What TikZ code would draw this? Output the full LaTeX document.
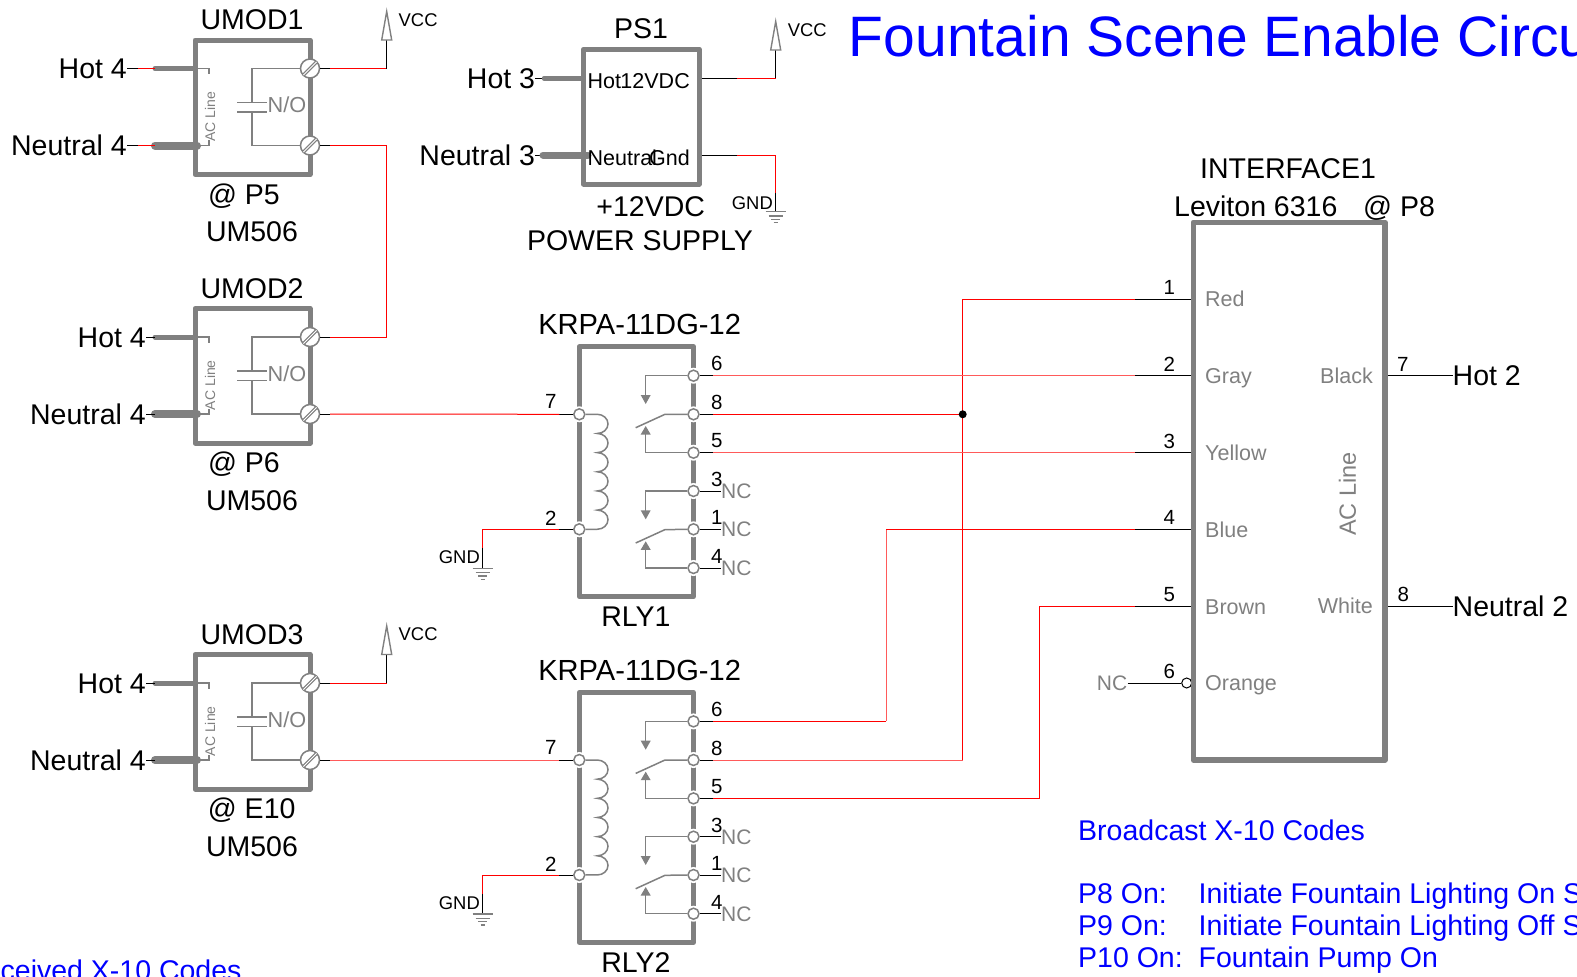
\documentclass[tikz,border=0pt]{standalone}
\usepackage{fontspec}
\setmainfont{Liberation Sans}
\newcommand\fsz[1]{\fontsize{#1}{#1}\selectfont}
\definecolor{gc}{RGB}{128,128,128}
\definecolor{bluet}{RGB}{0,0,255}
\definecolor{lred}{RGB}{255,90,90}
\tikzset{
 x=1pt,y=-1pt,
 bigt/.style={font=\fsz{28.5},text height=20.4pt,text depth=0pt,inner sep=0pt,text=black},
 krpat/.style={font=\fsz{29.1},text height=20.8pt,text depth=0pt,inner sep=0pt,text=black},
 bluetxt/.style={font=\fsz{28.5},text height=20.4pt,text depth=0pt,inner sep=0pt,text=bluet,anchor=west},
 titletxt/.style={font=\fsz{57},text height=40.8pt,text depth=0pt,inner sep=0pt,text=bluet,anchor=west},
 pinl/.style={font=\fsz{21.5},text height=15.4pt,text depth=0pt,inner sep=0pt,text=gc},
 pslbl/.style={font=\fsz{21.5},text height=15.4pt,text depth=0pt,inner sep=0pt,text=black},
 numt/.style={font=\fsz{20.5},text height=14.7pt,text depth=0pt,inner sep=0pt,text=black},
 nct/.style={font=\fsz{21},text height=15pt,text depth=0pt,inner sep=0pt,text=gc},
 not/.style={font=\fsz{21.7},text height=15.5pt,text depth=0pt,inner sep=0pt,text=gc},
 smallt/.style={font=\fsz{18.4},text height=13.2pt,text depth=0pt,inner sep=0pt,text=black},
 actiny/.style={font=\fsz{14},text height=10pt,text depth=0pt,inner sep=0pt,text=gc,rotate=90},
 acbig/.style={font=\fsz{23.5},text height=16.8pt,text depth=0pt,inner sep=0pt,text=gc,rotate=90},
 frame/.style={draw=gc,line width=5pt,line join=round,line cap=round},
 inner/.style={draw=gc,line width=1.5pt},
 wblk/.style={draw=black,line width=1pt},
 wred/.style={draw=red,line width=1pt},
 wlred/.style={draw=lred,line width=1pt},
 screw/.style={circle,draw=gc,line width=1.5pt,fill=white,minimum size=19pt,inner sep=0pt},
 pinc/.style={circle,draw=gc,line width=1.5pt,fill=white,minimum size=11pt,inner sep=0pt},
 halo/.style={circle,fill=white,minimum size=16pt,inner sep=0pt},
}
% ----- ground and supply symbols
\newcommand\gndsym[1]{%
 \draw[gc,line width=1.3pt] ([xshift=-10pt]#1) -- ([xshift=10pt]#1);
 \draw[gc,line width=1.3pt] ([shift={(-7,4.3)}]#1) -- ([shift={(7,4.3)}]#1);
 \draw[gc,line width=1.3pt] ([shift={(-4.5,7.7)}]#1) -- ([shift={(4.5,7.7)}]#1);
 \draw[gc,line width=1.3pt] ([shift={(-2,11)}]#1) -- ([shift={(2,11)}]#1);
}
\newcommand\vccsym[1]{% #1: coordinate at arrow base
 \draw[gc,line width=1.4pt,line join=miter,fill=white] ([shift={(-5,0)}]#1) -- ([shift={(0,-28.5)}]#1) -- ([shift={(5,0)}]#1) -- cycle;
}
% ----- AC module
\newcommand\umodule[6]{% id, yshift, title, at-label, at-position, label right edge
\begin{scope}[shift={(0,#2)}]
 \draw[frame] (195,40) rectangle (310,174.5);
 \node[screw] (#1a) at (310,68.5) {};
 \node[screw] (#1b) at (310,145.5) {};
 \foreach \t in {#1a,#1b}{
  \draw[gc,line width=3.2pt] ([shift={(-6.2,6.2)}]\t.center) -- ([shift={(6.2,-6.2)}]\t.center);
  \draw[white,line width=0.9pt] ([shift={(-6.6,6.6)}]\t.center) -- ([shift={(6.6,-6.6)}]\t.center);
 }
 \coordinate (#1pa) at (252,102.5);
 \coordinate (#1pb) at (252,112);
 \draw[inner] (#1a) -- (252,68.5) -- (#1pa);
 \draw[inner] (#1b) -- (252,145.5) -- (#1pb);
 \draw[inner] (237,102.5) -- (267,102.5);
 \draw[inner] (237,112) -- (267,112);
 \node[not,anchor=west] (#1no) at (267.5,105) {N/O};
 \node[actiny] (#1ac) at (210,116.7) {AC Line};
 \node[bigt,anchor=east] (#1hot) at (#6,68.5) {Hot 4};
 \node[bigt,anchor=east] (#1neu) at (#6,145.5) {Neutral 4};
 \node[bigt] (#1name) at (252,19.3) {#3};
 \node[bigt] (#1at) at (#5) {#4};
 \node[bigt] (#1um) at (252,231.7) {UM506};
 \coordinate (#1hs) at (155,68.5);
 \coordinate (#1hb) at (195,68.5);
 \coordinate (#1ns) at (155,145.5);
 \coordinate (#1nb) at (197,145.5);
 \draw[gc,line width=5pt,line cap=round] (#1hs) -- (#1hb);
 \draw[gc,line width=8pt,line cap=round] (#1ns) -- (#1nb);
 \draw[inner] (#1hb) -- (209,68.5) -- (209,74);
 \draw[inner] (#1nb) -- (209,145.5) -- (209,140);
\end{scope}}
% ----- relay
\newcommand\relay[3]{% id, yshift, bottom label
\begin{scope}[shift={(0,#2)}]
 \draw[frame] (579.3,346.7) rectangle (693.5,596.7);
 \foreach \n/\yy in {a/375.7,b/414.3,c/452.7,d/491,e/529.3,f/568}{
  \node[halo] at (693.5,\yy) {};
  \node[pinc] (#1\n) at (693.5,\yy) {};
 }
 \node[halo] at (579.3,414.3) {};
 \node[pinc] (#1g) at (579.3,414.3) {};
 \node[halo] at (579.3,529.3) {};
 \node[pinc] (#1h) at (579.3,529.3) {};
 \draw[inner] (#1g) -- (597.3,414.3)
   arc[start angle=-90,end angle=90,x radius=10.7,y radius=9.58]
   arc[start angle=-90,end angle=90,x radius=10.7,y radius=9.58]
   arc[start angle=-90,end angle=90,x radius=10.7,y radius=9.58]
   arc[start angle=-90,end angle=90,x radius=10.7,y radius=9.58]
   arc[start angle=-90,end angle=90,x radius=10.7,y radius=9.58]
   arc[start angle=-90,end angle=90,x radius=10.7,y radius=9.58] -- (#1h);
 \foreach \p/\q/\r/\s in {a/b/c/0,d/e/f/115.3}{
  \begin{scope}[shift={(0,\s)}]
   \draw[inner] (#1\q) -- (665,414.3) -- (635.7,427.7);
   \draw[inner] (#1\p) -- (645.7,375.7) -- (645.7,396);
   \fill[gc] (645.7,404) -- (640.7,395) -- (650.7,395) -- cycle;
   \draw[inner] (#1\r) -- (645.7,452.7) -- (645.7,433);
   \fill[gc] (645.7,426) -- (640.7,434.5) -- (650.7,434.5) -- cycle;
  \end{scope}
 }
 \node[krpat] (#1type) at (639.6,324.3) {KRPA-11DG-12};
 \node[bigt] (#1name) at (636,616.5) {#3};
 \node[numt] (#1n7) at (550.7,401.2) {7};
 \node[numt] (#1n2) at (550.7,518) {2};
 \node[numt] (#1n6) at (716.7,363.6) {6};
 \node[numt] (#1n8) at (716.7,402) {8};
 \node[numt] (#1n5) at (716.7,440.5) {5};
 \node[numt] (#1n3) at (716.7,479) {3};
 \node[numt] (#1n1) at (716.7,517.3) {1};
 \node[numt] (#1n4) at (716.7,556) {4};
 \node[nct,anchor=west] (#1ncd) at (721,491) {NC};
 \node[nct,anchor=west] (#1nce) at (721,529.3) {NC};
 \node[nct,anchor=west] (#1ncf) at (721,568) {NC};
 \draw[wblk] (#1d) -- (#1ncd.west);
 \draw[wblk] (#1e) -- (#1nce.west);
 \draw[wblk] (#1f) -- (#1ncf.west);
 \coordinate (#1sa) at (713.3,375.7);
 \coordinate (#1sb) at (713.3,414.3);
 \coordinate (#1sc) at (713.3,452.7);
 \coordinate (#1sg) at (559.3,414.3);
 \coordinate (#1sh) at (559.3,529.3);
 \draw[wblk] (#1a) -- (#1sa);
 \draw[wblk] (#1b) -- (#1sb);
 \draw[wblk] (#1c) -- (#1sc);
 \draw[wblk] (#1g) -- (#1sg);
 \draw[wblk] (#1h) -- (#1sh);
 \coordinate (#1gc) at (482.7,529.3);
 \coordinate (#1gm) at (482.7,548.3);
 \coordinate (#1gg) at (482.7,568.3);
 \node[smallt,anchor=east] (#1gnd) at (480,557) {GND};
 \draw[wred] (#1sh) -- (#1gc) -- (#1gm);
 \draw[wblk] (#1gm) -- (#1gg);
 \gndsym{#1gg}
\end{scope}}
\begin{document}
\begin{tikzpicture}
\useasboundingbox (0,0) rectangle (1577,977);
\clip (0,0) rectangle (1577,977);
\fill[white] (0,0) rectangle (1577,977);
% title
\node[titletxt] (title) at (848.7,36) {Fountain Scene Enable Circu};
% modules
\umodule{ua}{0}{UMOD1}{@ P5}{244,194.5}{127}
\umodule{ub}{268.5}{UMOD2}{@ P6}{244,193.3}{146}
\umodule{uc}{614.5}{UMOD3}{@ E10}{251.7,193.3}{146}
% left stubs of modules
\coordinate (uahm) at (138,68.5);
\coordinate (uanm) at (138,145.5);
\draw[wblk] (uahot.east) -- (uahm);
\draw[wred] (uahm) -- (uahs);
\draw[wblk] (uaneu.east) -- (uanm);
\draw[wred] (uanm) -- (uans);
\draw[wblk] (ubhot.east) -- (ubhs);
\draw[wblk] (ubneu.east) -- (ubns);
\draw[wblk] (uchot.east) -- (uchs);
\draw[wblk] (ucneu.east) -- (ucns);
% module outputs
\coordinate (uasa) at (330,68.5);
\coordinate (uasb) at (330,145.5);
\coordinate (ubsa) at (330,337);
\coordinate (ubsb) at (330,414);
\coordinate (ucsa) at (330,683);
\coordinate (ucsb) at (330,760);
\draw[wblk] (uaa) -- (uasa);
\draw[wblk] (uab) -- (uasb);
\draw[wblk] (uba) -- (ubsa);
\draw[wblk] (ubb) -- (ubsb);
\draw[wblk] (uca) -- (ucsa);
\draw[wblk] (ucb) -- (ucsb);
\coordinate (vcca) at (386.7,68.5);
\coordinate (vccb) at (386.7,40);
\coordinate (vccc) at (386.7,683);
\coordinate (vccd) at (386.7,654.5);
\draw[wred] (uasa) -- (vcca);
\draw[wblk] (vcca) -- (vccb);
\vccsym{vccb}
\node[smallt,anchor=west] (vcct1) at (398.5,20) {VCC};
\draw[wred] (ucsa) -- (vccc);
\draw[wblk] (vccc) -- (vccd);
\vccsym{vccd}
\node[smallt,anchor=west] (vcct3) at (398.5,634) {VCC};
\draw[wred] (uasb) -- (386.7,145.5) -- (386.7,337) -- (ubsa);
% PS1
\draw[frame] (583.3,49.3) rectangle (699.3,184);
\node[bigt] (psn) at (641,28.3) {PS1};
\node[bigt] (psv) at (650.7,206.5) {+12VDC};
\node[bigt] (psp) at (640,240) {POWER SUPPLY};
\node[bigt,anchor=east] (pshot) at (535.3,78.3) {Hot 3};
\node[bigt,anchor=east] (psneu) at (535.3,155) {Neutral 3};
\coordinate (pshs) at (544,78.3);
\coordinate (pshb) at (583.3,78.3);
\coordinate (psns) at (543,155);
\coordinate (psnb) at (588,155);
\draw[wblk] (pshot.east) -- (pshs);
\draw[wblk] (psneu.east) -- (psns);
\draw[gc,line width=4.5pt,line cap=round] (pshs) -- (pshb);
\draw[gc,line width=7pt,line cap=round] (psns) -- (psnb);
\node[pslbl,anchor=west] (pshi) at (587.5,80.5) {Hot};
\node[pslbl,anchor=east] (ps12) at (690,80.5) {12VDC};
\node[pslbl,anchor=west] (psni) at (587.5,157.5) {Neutral};
\node[pslbl,anchor=east] (psgnd) at (690,157.5) {Gnd};
\coordinate (psa) at (701.8,78.3);
\coordinate (psam) at (737.3,78.3);
\coordinate (psac) at (775.7,78.3);
\coordinate (psat) at (775.7,50);
\coordinate (psb) at (701.8,155);
\coordinate (psbm) at (737.3,155);
\coordinate (psbc) at (775.7,155);
\coordinate (psbt) at (775.7,193.3);
\coordinate (psbg) at (775.7,211.7);
\draw[wblk] (psa) -- (psam);
\draw[wred] (psam) -- (psac);
\draw[wblk] (psac) -- (psat);
\vccsym{psat}
\node[smallt,anchor=west] (vcct2) at (787.7,29.5) {VCC};
\draw[wblk] (psb) -- (psbm);
\draw[wred] (psbm) -- (psbc) -- (psbt);
\draw[wblk] (psbt) -- (psbg);
\gndsym{psbg}
\node[smallt,anchor=east] (psgt) at (773,202.8) {GND};
% relays
\relay{ra}{0}{RLY1}
\relay{rb}{345.7}{RLY2}
\draw[wred] (ubsb) -- (rasg);
\draw[wlred] (ucsb) -- (rbsg);
% interface
\draw[frame,line width=5.5pt] (1193.3,222.3) rectangle (1385,760);
\node[bigt] (ifn) at (1288,168) {INTERFACE1};
\node[bigt,anchor=west] (ifm) at (1174,206) {Leviton 6316};
\node[bigt,anchor=west] (ifa) at (1363,206) {@ P8};
\foreach \i/\t/\yy in {1/Red/299,2/Gray/375.7,3/Yellow/452.7,4/Blue/529.5,5/Brown/606.5,6/Orange/683}{
 \node[pinl,anchor=west] (ift\i) at (1205,\yy) {\t};
 \node[numt] (ifn\i) at (1169.3,\yy-12) {\i};
 \coordinate (ifs\i) at (1135,\yy);
 \coordinate (ife\i) at (1190.5,\yy);
}
\draw[wblk] (ife1) -- (ifs1);
\draw[wblk] (ife2) -- (ifs2);
\draw[wblk] (ife3) -- (ifs3);
\draw[wblk] (ife4) -- (ifs4);
\draw[wblk] (ife5) -- (ifs5);
\node[nct,anchor=east] (ifnc) at (1127.5,683) {NC};
\node[pinc,draw=black,line width=1pt,minimum size=10pt] (ifo) at (1186.7,683) {};
\draw[wblk] (ifnc.east) -- (ifo);
\draw[draw=gc,line width=5.5pt] (1193.3,640) -- (1193.3,720);
\node[pinl,anchor=east] (ifb) at (1373,375.7) {Black};
\node[pinl,anchor=east] (ifw) at (1373,606) {White};
\node[acbig] (ifac) at (1347.5,494) {AC Line};
\node[numt] (ifn7) at (1402.7,363.8) {7};
\node[numt] (ifn8) at (1403.3,594.5) {8};
\node[bigt,anchor=west] (hot2) at (1452.5,375.7) {Hot 2};
\node[bigt,anchor=west] (neu2) at (1452.5,606.5) {Neutral 2};
\coordinate (ifr7) at (1388,375.7);
\coordinate (ifr8) at (1388,606.5);
\draw[wblk] (ifr7) -- (hot2.west);
\draw[wblk] (ifr8) -- (neu2.west);
% red wiring
\coordinate (ja) at (962.7,299);
\coordinate (jb) at (962.7,414.3);
\coordinate (jc) at (962.7,760);
\coordinate (ka) at (886,529.5);
\coordinate (kb) at (886,721.4);
\coordinate (la) at (1039.5,606.5);
\coordinate (lb) at (1039.5,798.4);
\draw[wred] (ifs1) -- (ja) -- (jb) -- (jc);
\draw[wlred] (jc) -- (rbsb);
\draw[wred] (rasb) -- (jb);
\draw[wlred] (rasa) -- (ifs2);
\draw[wlred] (rasc) -- (ifs3);
\draw[wred] (ifs4) -- (ka);
\draw[wlred] (ka) -- (kb);
\draw[wred] (kb) -- (rbsa);
\draw[wred] (ifs5) -- (la) -- (lb) -- (rbsc);
\fill[black] (jb) circle (4pt);
% blue notes
\node[bluetxt] (bc) at (1078,830) {Broadcast X-10 Codes};
\node[bluetxt] (p8) at (1078,893.3) {P8 On:};
\node[bluetxt] (p9) at (1078,925) {P9 On:};
\node[bluetxt] (p10) at (1078,957.3) {P10 On:};
\node[bluetxt] (d8) at (1198.5,893.3) {Initiate Fountain Lighting On S};
\node[bluetxt] (d9) at (1198.5,925) {Initiate Fountain Lighting Off S};
\node[bluetxt] (d10) at (1198.5,957.3) {Fountain Pump On};
\node[bluetxt] (rc) at (0.5,970.5) {ceived X-10 Codes};
\end{tikzpicture}
\end{document}
